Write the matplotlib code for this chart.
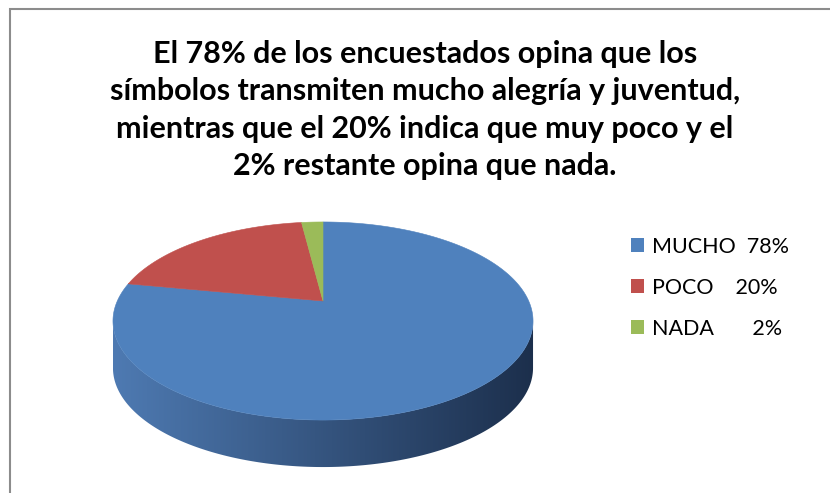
import numpy as np
import matplotlib
matplotlib.use("Agg")
import matplotlib.pyplot as plt
from matplotlib.patches import Polygon, Patch

plt.rcParams['font.family'] = ['Lato', 'DejaVu Sans']

# Survey data
categories = ["MUCHO", "POCO", "NADA"]
values = [78, 20, 2]
legend_labels = ["MUCHO  78%", "POCO    20%", "NADA       2%"]
colors = ["#4F81BD", "#C0504D", "#9BBB59"]
title = ("El 78% de los encuestados opina que los\n"
         "símbolos transmiten mucho alegría y juventud,\n"
         "mientras que el 20% indica que muy poco y el\n"
         "2% restante opina que nada.")

W, H = 830, 493
fig = plt.figure(figsize=(W / 100, H / 100), dpi=100)
ax = fig.add_axes([0, 0, 1, 1])
ax.set_xlim(0, W)
ax.set_ylim(H, 0)
ax.axis('off')

# Chart frame (left and top edges)
ax.plot([10, 10, W + 5], [H + 5, 9, 9], color="#8c8c8c", lw=1.5,
        solid_joinstyle='miter', zorder=1)

# Perspective pie geometry: projected centre, axes, tilt factor, thickness
X0, Y0 = 323.0, 301.0
A, B, K = 205.7, 95.0, 0.202
DEPTH = 47.0


def project(phi_deg, r=1.0):
    phi = np.radians(phi_deg)
    u = r * np.cos(phi)
    v = r * np.sin(phi)
    s = 1.0 + K * v
    return X0 + A * u / s, Y0 - B * v / s


# Slices start at 12 o'clock and run clockwise
total = float(sum(values))
start = 90.0
bounds = []
for val in values:
    sweep = 360.0 * val / total
    bounds.append((start - sweep, start))
    start -= sweep

# Visible side wall (front arc between the silhouette points)
lo = 180.0 + np.degrees(np.arcsin(K))
hi = 360.0 - np.degrees(np.arcsin(K))
x_left, _ = project(lo)
x_right, _ = project(hi)
side_shades = [((78, 122, 178), (28, 47, 76)),
               ((150, 60, 58), (80, 30, 28)),
               ((120, 145, 70), (65, 80, 35))]
for (a0, a1), shade in zip(bounds, side_shades):
    for off in (0.0, 360.0, -360.0):
        s0, s1 = max(a0 + off, lo), min(a1 + off, hi)
        if s1 <= s0:
            continue
        ph = np.linspace(s0, s1, 200)
        xs, ys = project(ph)
        pts = np.column_stack([np.r_[xs, xs[::-1]],
                               np.r_[ys, ys[::-1] + DEPTH]])
        poly = Polygon(pts, closed=True, facecolor='none', edgecolor='none')
        ax.add_patch(poly)
        c0 = np.array(shade[0]) / 255.0
        c1 = np.array(shade[1]) / 255.0
        t = np.linspace(0, 1, 256)[None, :, None]
        grad = c0 + (c1 - c0) * t
        im = ax.imshow(grad, extent=[x_left, x_right, Y0 + 200, Y0 - 50],
                       aspect='auto', interpolation='bilinear', zorder=2)
        im.set_clip_path(poly)

ax.set_xlim(0, W)
ax.set_ylim(H, 0)

# Top face wedges
for (a0, a1), col in zip(bounds, colors):
    ph = np.linspace(a0, a1, 400)
    xs, ys = project(ph)
    pts = np.column_stack([np.r_[X0, xs], np.r_[Y0, ys]])
    ax.add_patch(Polygon(pts, closed=True, facecolor=col, edgecolor=col,
                         lw=0.4, zorder=3))

# Title
fig.text(425 / W, 1 - 110 / H, title, ha='center', va='center',
         fontsize=22, fontweight='bold', linespacing=1.42, color='black')

# Legend
handles = [Patch(facecolor=c, edgecolor='none') for c in colors]
fig.legend(handles, legend_labels, loc='upper left',
           bbox_to_anchor=(622 / W, 1 - 228 / H), frameon=False,
           fontsize=15.5, handlelength=0.6, handleheight=0.6,
           handletextpad=0.4, labelspacing=0.98, borderaxespad=0)

fig.savefig("out.png", dpi=100)
